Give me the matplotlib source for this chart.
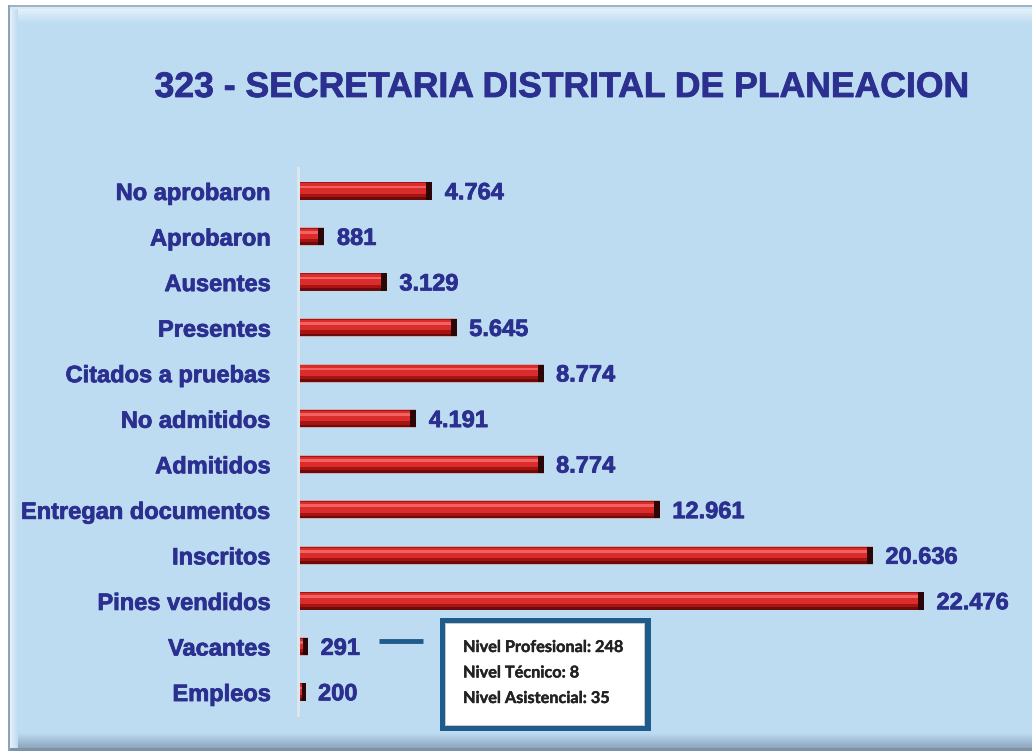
import matplotlib
matplotlib.use("Agg")
import matplotlib.pyplot as plt
import matplotlib.patheffects as pe
import numpy as np
from matplotlib.patches import Rectangle

categories = ["Empleos", "Vacantes", "Pines vendidos", "Inscritos", "Entregan documentos",
              "Admitidos", "No admitidos", "Citados a pruebas", "Presentes", "Ausentes",
              "Aprobaron", "No aprobaron"]
values = [200, 291, 22476, 20636, 12961, 8774, 4191, 8774, 5645, 3129, 881, 4764]
value_labels = ["200", "291", "22.476", "20.636", "12.961", "8.774", "4.191", "8.774",
                "5.645", "3.129", "881", "4.764"]
title = "323 - SECRETARIA DISTRITAL DE PLANEACION"
box_lines = ["Nivel Profesional: 248", "Nivel Técnico: 8", "Nivel Asistencial: 35"]

W, H = 1032, 751
DPI = 100
TXT = "#2B2F8F"
PANEL = "#BDDBF1"
FAM = ["Liberation Sans", "DejaVu Sans"]
heavy = [pe.withStroke(linewidth=0.55, foreground=TXT)]

fig = plt.figure(figsize=(W / DPI, H / DPI), dpi=DPI, facecolor="white")

# ---- background frame (pixel coordinates) ----
bg = fig.add_axes([0, 0, 1, 1], zorder=0)
bg.set_xlim(0, W)
bg.set_ylim(H, 0)
bg.axis("off")
bg.add_patch(Rectangle((8, 5), W - 8, H - 5, facecolor="#9FB3C6", edgecolor="none"))
bg.add_patch(Rectangle((10, 7), W - 10, H - 9, facecolor=PANEL, edgecolor="none"))
top_cmap = matplotlib.colors.LinearSegmentedColormap.from_list("t", [PANEL, "#E6F2FB"])
grad = np.linspace(1, 0, 40).reshape(-1, 1)
bg.imshow(grad, extent=(12, W, 24, 8), cmap=top_cmap, aspect="auto", zorder=1)
bg.add_patch(Rectangle((10, 7), W - 10, 2, facecolor="#D5E8F6", edgecolor="none", zorder=2))
gradl = np.linspace(1, 0, 40).reshape(1, -1)
bg.imshow(gradl, extent=(10, 18, H - 3, 8), cmap=top_cmap, aspect="auto", zorder=1)
bg.add_patch(Rectangle((8, 5), 2, H - 5, facecolor="#8FA3B8", edgecolor="none", zorder=2))
gradb = np.linspace(0, 1, 40).reshape(-1, 1)
bot_cmap = matplotlib.colors.LinearSegmentedColormap.from_list("b", [PANEL, "#8EA6BE"])
bg.imshow(gradb, extent=(18, W, H - 3, H - 18), cmap=bot_cmap, aspect="auto", zorder=1)
bg.add_patch(Rectangle((10, H - 3), W - 10, 3, facecolor="#7F93A8", edgecolor="none", zorder=2))

# title
bg.text(561, 97, title, ha="center", va="baseline", fontsize=25.6, fontweight="bold",
        color=TXT, family=FAM, zorder=5, path_effects=heavy)

# info box + connector line
bg.plot([379, 423], [641, 641], color="#1F5C8E", lw=3.5, solid_capstyle="butt", zorder=5)
bg.add_patch(Rectangle((440, 618), 211, 113, facecolor="#1F5C8E", edgecolor="none", zorder=5))
bg.add_patch(Rectangle((445, 623), 200, 103, facecolor="#C8C8C8", edgecolor="none", zorder=6))
bg.add_patch(Rectangle((446, 624), 198, 101, facecolor="white", edgecolor="none", zorder=7))
for i, line in enumerate(box_lines):
    bg.text(463, 648 + i * 25.5, line, ha="left", va="center", fontsize=11.7,
            fontweight="bold", color="#222222", family=["Lato", "DejaVu Sans"], zorder=8,
            path_effects=[pe.withStroke(linewidth=0.3, foreground="#222222")])

# ---- bar chart axes ----
px_per_unit = 624 / 22476
ax_left_px, ax_right_px = 300, 1020
ax_top_px, ax_bot_px = 168.2, 714.8
ax = fig.add_axes([ax_left_px / W, (H - ax_bot_px) / H, (ax_right_px - ax_left_px) / W,
                   (ax_bot_px - ax_top_px) / H], zorder=2)
ax.set_facecolor("none")
ax.set_xlim(0, (ax_right_px - ax_left_px) / px_per_unit)
ax.set_ylim(-0.5, len(categories) - 0.5)
for s in ax.spines.values():
    s.set_visible(False)
ax.axvline(-70, color="#DCE6EE", lw=2.2, zorder=1, clip_on=False)

y = np.arange(len(categories))
v = np.array(values, dtype=float)
hh = 0.19
ax.barh(y, v, height=2 * hh + 0.03, color="#C9AFB0", zorder=2)
ax.barh(y, v, height=2 * hh, color="#A51313", zorder=3)
ax.barh(y + 0.055, v, height=0.23, left=0, color="#DB2C2C", zorder=4)
ax.barh(y + 0.09, v, height=0.06, color="#F26262", zorder=5)
ax.barh(y - 0.16, v, height=0.06, color="#6E0A0A", zorder=5)
cap = np.minimum(6 / px_per_unit, v * 0.6)
ax.barh(y, cap, left=v - cap, height=2 * hh, color="#2C0606", zorder=6)

for yi, vi, lab in zip(y, v, value_labels):
    ax.annotate(lab, (vi, yi - 0.04), xytext=(9, 0), textcoords="offset points",
                ha="left", va="center", fontsize=17, fontweight="bold", color=TXT,
                family=FAM, zorder=7, path_effects=heavy)

ax.set_xticks([])
ax.set_yticks(y)
ax.set_yticklabels(categories, fontsize=17, fontweight="bold", color=TXT, family=FAM)
for t in ax.get_yticklabels():
    t.set_path_effects(heavy)
ax.tick_params(axis="y", length=0, pad=21)

fig.savefig("out.png", dpi=DPI, facecolor="white")
